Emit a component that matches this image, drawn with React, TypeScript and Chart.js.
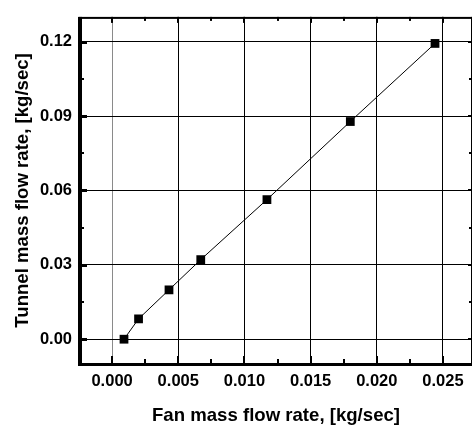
import React, { useEffect, useRef } from "react";
import { Chart, registerables } from "chart.js";

Chart.register(...registerables);

// ---- data ----
const fanFlow = [0.0009, 0.002, 0.0043, 0.0067, 0.0117, 0.018, 0.0244];
const tunnelFlow = [0.0, 0.0082, 0.0199, 0.0321, 0.0563, 0.0878, 0.1193];
const xTitle = "Fan mass flow rate, [kg/sec]";
const yTitle = "Tunnel mass flow rate, [kg/sec]";
const xMajorTicks = [0, 0.005, 0.01, 0.015, 0.02, 0.025];
const xMinorTicks = [0.0025, 0.0075, 0.0125, 0.0175, 0.0225];
const yMajorTicks = [0, 0.03, 0.06, 0.09, 0.12];
const yMinorTicks = [0.015, 0.045, 0.075, 0.105];

const FONT = "'Liberation Sans', Arial, Helvetica, sans-serif";

const framePlugin = {
  id: "frame",
  afterDatasetsDraw(chart: any) {
    const { ctx, chartArea, scales } = chart;
    const { left, right, top, bottom } = chartArea;
    const x = scales.x;
    const y = scales.y;
    ctx.save();
    ctx.fillStyle = "#000";
    // top & right borders
    ctx.fillRect(left, top, right - left, 2);
    ctx.fillRect(right - 2, top, 2, bottom - top);
    // left & bottom axes (thick)
    ctx.fillRect(left - 1, top, 4, bottom - top + 2);
    ctx.fillRect(left - 1, bottom - 1, right - left + 1, 3);
    // x ticks
    xMajorTicks.forEach((v) => {
      const px = Math.round(x.getPixelForValue(v));
      ctx.fillRect(px - 1, bottom - 8, 2, 8);
      ctx.fillRect(px - 1, top, 2, 6);
    });
    xMinorTicks.forEach((v) => {
      const px = Math.round(x.getPixelForValue(v));
      ctx.fillRect(px - 1, bottom - 5, 2, 5);
      ctx.fillRect(px - 1, top, 2, 4);
    });
    // y ticks
    yMajorTicks.forEach((v) => {
      const py = Math.round(y.getPixelForValue(v));
      ctx.fillRect(left, py - 1, 8, 3);
      ctx.fillRect(right - 5, py - 1, 5, 2);
    });
    yMinorTicks.forEach((v) => {
      const py = Math.round(y.getPixelForValue(v));
      ctx.fillRect(left, py - 1, 5, 2);
      ctx.fillRect(right - 4, py - 1, 4, 2);
    });
    ctx.restore();
  },
};

export default function App() {
  const canvasRef = useRef<HTMLCanvasElement | null>(null);

  useEffect(() => {
    const canvas = canvasRef.current;
    if (!canvas) return;
    const points = fanFlow.map((v, i) => ({ x: v, y: tunnelFlow[i] }));
    const chart = new Chart(canvas, {
      type: "scatter",
      data: {
        datasets: [
          {
            data: points,
            showLine: true,
            borderColor: "#000",
            borderWidth: 1,
            backgroundColor: "#000",
            pointStyle: "rect",
            pointRadius: 6.2,
            pointBorderWidth: 0,
            pointBackgroundColor: "#000",
          },
        ],
      },
      options: {
        responsive: false,
        animation: false,
        devicePixelRatio: 1,
        layout: { padding: { left: 0, top: 8, right: 7, bottom: 0 } },
        plugins: {
          legend: { display: false },
          tooltip: { enabled: false },
        },
        scales: {
          x: {
            type: "linear",
            min: -0.0025,
            max: 0.02727,
            afterFit: (s: any) => {
              s.height = 66;
            },
            border: { display: false },
            grid: {
              drawTicks: false,
              lineWidth: 1,
              color: (c: any) => (c.tick && Math.abs(c.tick.value) < 1e-9 ? "#8a8a8a" : "#000"),
            },
            ticks: {
              stepSize: 0.005,
              includeBounds: false,
              padding: 8,
              color: "#000",
              font: { family: FONT, size: 16.5, weight: "bold" },
              callback: (v: any) => Number(v).toFixed(3),
            },
            title: {
              display: true,
              text: xTitle,
              color: "#000",
              font: { family: FONT, size: 18.6, weight: "bold" },
              padding: { top: 0, bottom: 3 },
            },
          },
          y: {
            type: "linear",
            min: -0.01,
            max: 0.13,
            afterFit: (s: any) => {
              s.width = 79;
            },
            border: { display: false },
            grid: {
              drawTicks: false,
              lineWidth: 1,
              color: "#000",
            },
            ticks: {
              stepSize: 0.03,
              includeBounds: false,
              padding: 7,
              color: "#000",
              font: { family: FONT, size: 16.5, weight: "bold" },
              callback: (v: any) => Number(v).toFixed(2),
            },
            title: {
              display: true,
              text: yTitle,
              color: "#000",
              font: { family: FONT, size: 18.6, weight: "bold" },
              padding: { top: 12, bottom: 0 },
            },
          },
        },
      },
      plugins: [framePlugin],
    });
    return () => chart.destroy();
  }, []);

  return (
    <div style={{ position: "fixed", left: 0, top: 0, width: 480, height: 430, background: "#fff" }}>
      <canvas ref={canvasRef} width={480} height={430} style={{ display: "block" }} />
    </div>
  );
}
